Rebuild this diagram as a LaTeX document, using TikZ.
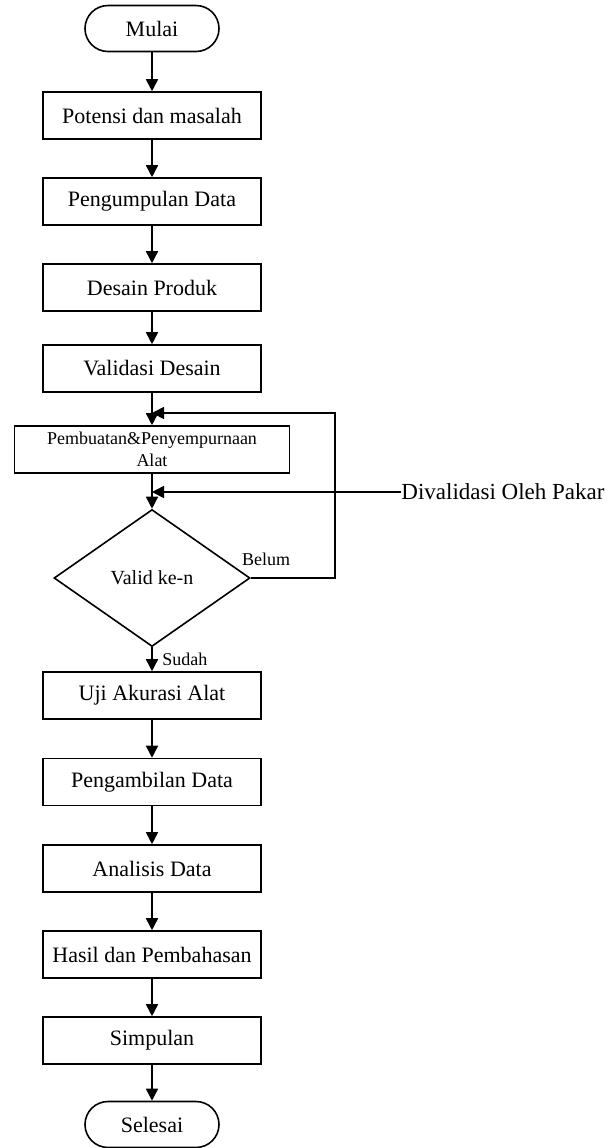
\documentclass[tikz,border=0pt]{standalone}
\usepackage{fontspec}
\setmainfont{Liberation Serif}
\usetikzlibrary{arrows.meta,shapes.geometric,shapes.misc,positioning}

\begin{document}
\begin{tikzpicture}[
        x=0.5pt, y=-0.5pt,
        >={Triangle[length=6pt,width=6pt]},
        every node/.style={font=\fontsize{11}{13}\selectfont,align=center},
        flow/.style={draw, line width=0.8pt},
        box/.style={draw, line width=0.8pt, minimum width=109pt, minimum height=23.5pt, inner sep=0pt},
        term/.style={draw, line width=0.8pt, rounded rectangle, minimum width=67pt, minimum height=23pt, inner sep=0pt},
        decision/.style={draw, line width=0.8pt, diamond, minimum width=98pt, minimum height=68.5pt, inner sep=0pt},
        small/.style={font=\fontsize{9}{11}\selectfont}
    ]
    \useasboundingbox (0,0) rectangle (610,1148);

    % the main column
    \node[term] (mulai) at (152,28.5) {Mulai};
    \foreach \nm/\txt/\y in {potensi/Potensi dan masalah/115.5, kumpul/Pengumpulan Data/201.5,
                             desain/Desain Produk/287.5, validasi/Validasi Desain/368.5}
        \node[box] (\nm) at (152,\y) {\txt};
    \node[box, small, minimum width=137.5pt] (buat) at (152,449.5) {Pembuatan\&Penyempurnaan\\Alat};
    \node[decision, font=\fontsize{10}{12}\selectfont] (valid) at (152,578) {Valid ke-n};
    \foreach \nm/\txt/\y in {uji/Uji Akurasi Alat/695.5, ambil/Pengambilan Data/782,
                             analisis/Analisis Data/868.5, hasil/Hasil dan Pembahasan/954.5,
                             simpulan/Simpulan/1040.5}
        \node[box] (\nm) at (152,\y) {\txt};
    \node[term] (selesai) at (152,1124.5) {Selesai};

    % straight arrows
    \foreach \a/\b in {mulai/potensi, potensi/kumpul, kumpul/desain, desain/validasi,
                       validasi/buat, buat/valid, uji/ambil, ambil/analisis,
                       analisis/hasil, hasil/simpulan, simpulan/selesai}
        \draw[flow,->] (\a.south) -- (\b.north);
    \draw[flow,->] (valid.south) -- node[right, small, xshift=1.5pt] (sudah) {Sudah} (uji.north);

    % loop back
    \coordinate (sudut) at (335,413);
    \coordinate (balik) at (152,413);
    \draw[flow,->] (valid.east) -| (sudut) -- (balik);
    \node[small] (belum) at (266,559) {Belum};

    % expert input
    \node[font=\fontsize{11.5}{13}\selectfont, anchor=west, inner sep=0pt] (pakar) at (401,492) {Divalidasi Oleh Pakar};
    \coordinate (masuk) at (152,492);
    \draw[flow,->] (pakar.west) -- (masuk);
\end{tikzpicture}
\end{document}
